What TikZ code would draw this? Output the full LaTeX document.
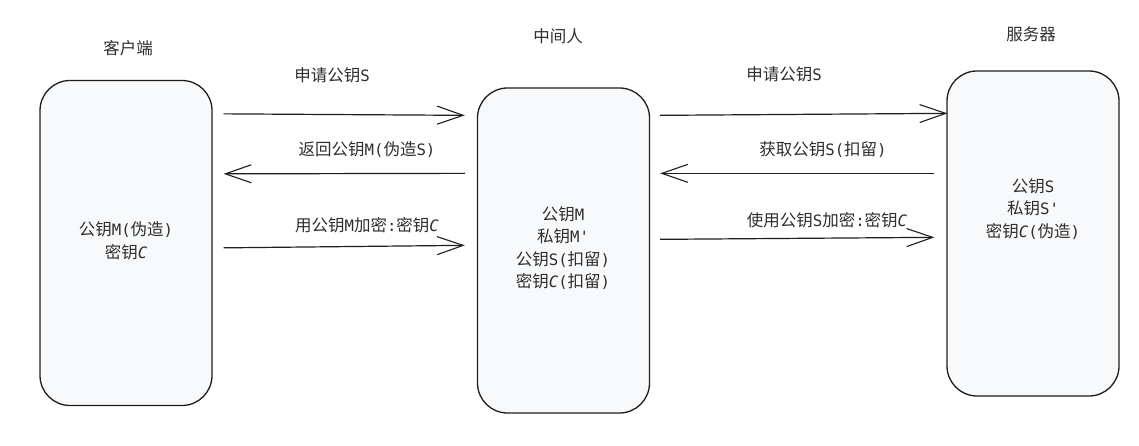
\documentclass[tikz,border=0pt]{standalone}
\usepackage{fontspec}
\newfontfamily\cjkf{Noto Sans CJK SC}
\newfontfamily\monof{DejaVu Sans Mono}[Scale=0.95]
\newcommand{\la}[1]{{\monof #1}}
\newcommand{\kc}{{\monof\itshape C}}
\usetikzlibrary{arrows.meta,calc}
\definecolor{ink}{HTML}{1E1E1E}
\definecolor{txt}{HTML}{2E2E2E}
\definecolor{boxfill}{HTML}{F8F9FB}
\tikzset{
  party/.style={draw=ink, line width=1.3pt, fill=boxfill, rounded corners=30pt,
    minimum width=172pt, minimum height=325pt, inner sep=0pt},
  title/.style={text=txt, font=\cjkf\fontsize{16.5}{20}\selectfont, inner sep=0pt},
  msg/.style={draw=ink, line width=1.2pt, -{Straight Barb[length=26pt,width=18pt,line width=1.1pt]}},
  lbl/.style={text=txt, font=\cjkf\fontsize{16.5}{20}\selectfont, inner sep=0pt},
  inbox/.style={text=txt, font=\cjkf\fontsize{16.5}{20}\selectfont, inner sep=0pt, align=center}
}
\begin{document}
\begin{tikzpicture}[x=1pt,y=-1pt]
\useasboundingbox[fill=white] (0,0) rectangle (1139,446);
% parties
\node[party] (cl) at (126,243) {};
\node[party] (mi) at (563.5,250.5) {};
\node[party] (sv) at (1033,233.5) {};
% texts inside
\node[inbox] (clt) at (126,241) {公钥\la{M(}伪造\la{)}\\[2.5pt]密钥\kc};
\node[inbox] (mit) at (563,248) {公钥\la{M}\\[2.5pt]私钥\la{M'}\\[2.5pt]公钥\la{S(}扣留\la{)}\\[2.5pt]密钥\kc\la{(}扣留\la{)}};
\node[inbox] (svt) at (1033,209) {公钥\la{S}\\[2.5pt]私钥\la{S'}\\[2.5pt]密钥\kc\la{(}伪造\la{)}};
% titles
\node[title] (clh) at (128,48) {客户端};
\node[title] (mih) at (558,36) {中间人};
\node[title] (svh) at (1031,34) {服务器};
% connector end points
\coordinate (a1s) at ($(cl.north east)+(11,34)$);
\coordinate (a1e) at ($(mi.north west)+(-12,28)$);
\coordinate (a2s) at ($(mi.north west)+(-12,86)$);
\coordinate (a2e) at ($(cl.north east)+(11,94)$);
\coordinate (a3s) at ($(cl.north east)+(11,168)$);
\coordinate (a3e) at ($(mi.north west)+(-12,158)$);
\coordinate (b1s) at ($(mi.north east)+(10,28)$);
\coordinate (b1e) at ($(sv.north west)+(1,43)$);
\coordinate (b2s) at ($(sv.north west)+(-12,103)$);
\coordinate (b2e) at ($(mi.north east)+(10,86)$);
\coordinate (b3s) at ($(mi.north east)+(10,152)$);
\coordinate (b3e) at ($(sv.north west)+(-12,167)$);
% messages
\draw[msg] (a1s) -- (a1e);
\draw[msg] (a2s) -- (a2e);
\draw[msg] (a3s) -- (a3e);
\draw[msg] (b1s) -- (b1e);
\draw[msg] (b2s) -- (b2e);
\draw[msg] (b3s) -- (b3e);
% labels
\node[lbl] (l1) at (332,75) {申请公钥\la{S}};
\node[lbl] (l2) at (367,150) {返回公钥\la{M(}伪造\la{S)}};
\node[lbl] (l3) at (367,225) {用公钥\la{M}加密\la{:}密钥\kc};
\node[lbl] (l4) at (784,74) {申请公钥\la{S}};
\node[lbl] (l5) at (823,150) {获取公钥\la{S(}扣留\la{)}};
\node[lbl] (l6) at (827,220) {使用公钥\la{S}加密\la{:}密钥\kc};
\end{tikzpicture}
\end{document}
